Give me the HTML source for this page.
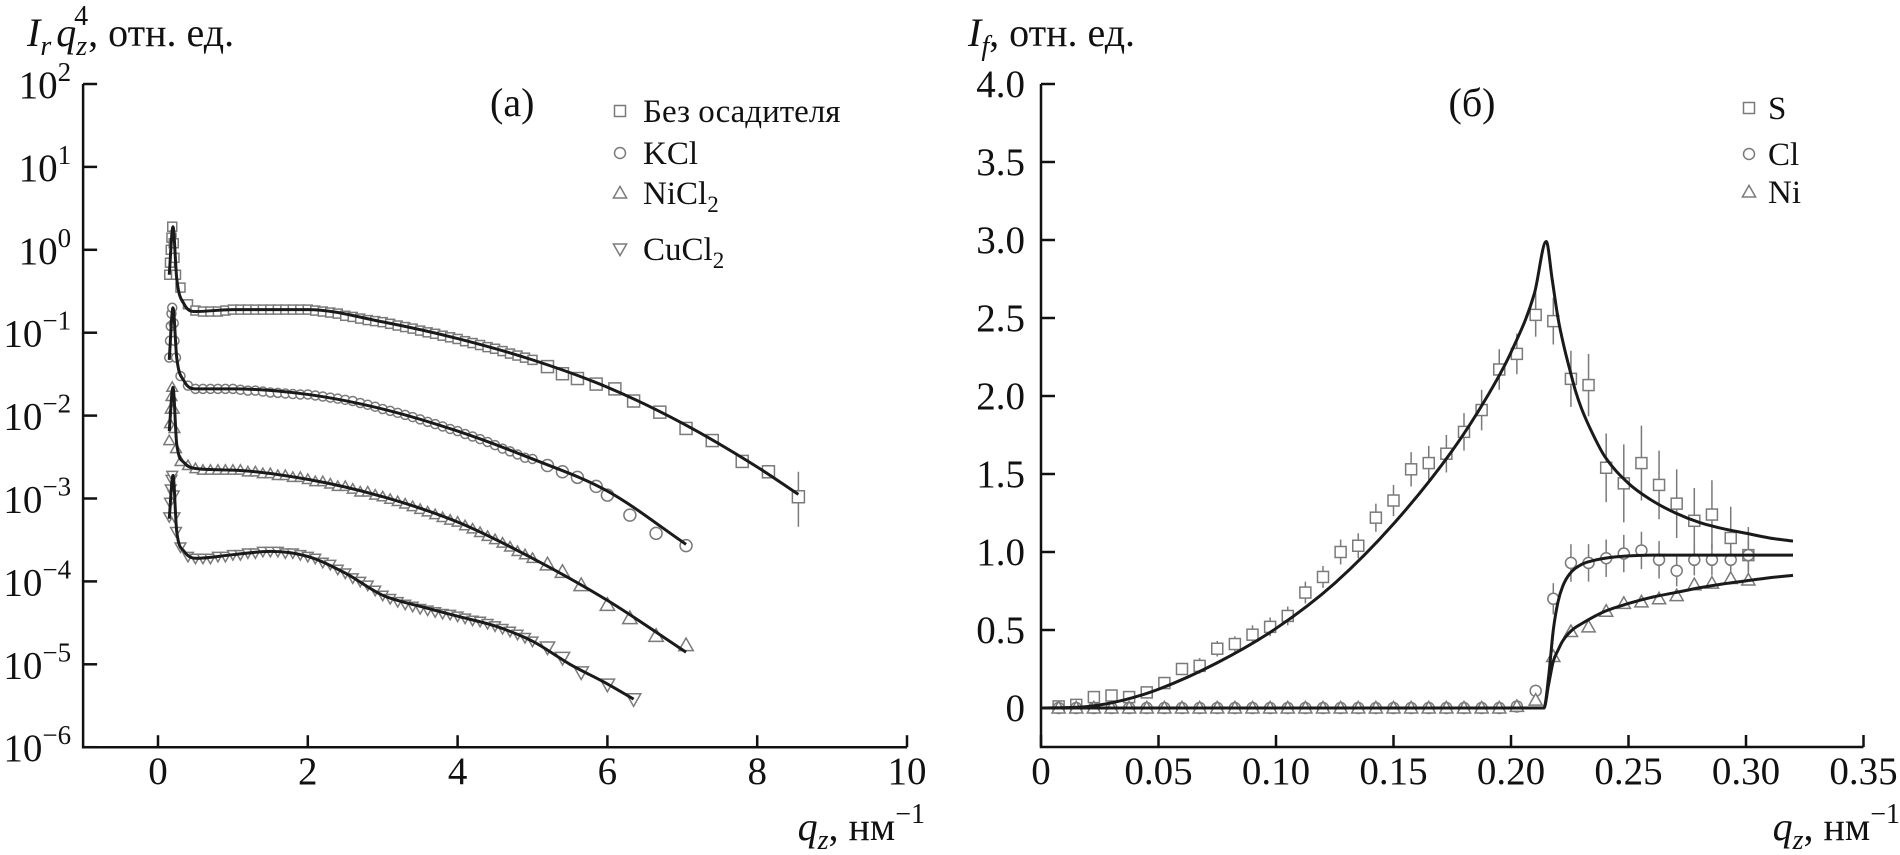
<!DOCTYPE html>
<html><head><meta charset="utf-8"><style>
html,body{margin:0;padding:0;background:#fff;}
svg{display:block;font-family:"Liberation Serif",serif;}
</style></head><body>
<svg id="chart" width="1900" height="855" viewBox="0 0 1900 855" xmlns="http://www.w3.org/2000/svg">
<g id="pa"></g>
<g id="pb"></g>
</svg>
<script>
// ---------- Panel (a) data ----------
const aXTicks = [0,2,4,6,8,10];
const aYTickExp = [2,1,0,-1,-2,-3,-4,-5,-6];
const aSeriesNames = ["Без осадителя","KCl","NiCl2","CuCl2"];
const aQ = [0.15,0.16,0.17,0.18,0.19,0.21,0.22,0.24,0.3,0.4,0.5,0.6,0.7,0.8,0.9,1.0,1.1,1.2,1.3,1.4,1.5,1.6,1.7,1.8,1.9,2.0,2.1,2.2,2.3,2.4,2.5,2.6,2.7,2.8,2.9,3.0,3.1,3.2,3.3,3.4,3.5,3.6,3.7,3.8,3.9,4.0,4.1,4.2,4.3,4.4,4.5,4.6,4.7,4.8,4.9,5.0];
const aS1 = [0.5,0.7,1.0,1.4,1.9,1.2,0.8,0.5,0.35,0.22,0.185,0.18,0.18,0.18,0.185,0.19,0.19,0.19,0.19,0.19,0.19,0.19,0.19,0.19,0.19,0.19,0.185,0.18,0.175,0.17,0.16,0.155,0.148,0.142,0.138,0.134,0.128,0.122,0.117,0.112,0.106,0.101,0.097,0.092,0.088,0.084,0.079,0.075,0.071,0.067,0.064,0.06,0.056,0.053,0.05,0.047];
const aS2 = [0.05,0.08,0.12,0.17,0.2,0.13,0.08,0.05,0.03,0.023,0.021,0.021,0.021,0.021,0.021,0.021,0.0205,0.02,0.02,0.0195,0.019,0.0188,0.0185,0.0182,0.018,0.018,0.0175,0.017,0.0165,0.016,0.0155,0.015,0.0142,0.0135,0.0128,0.012,0.0114,0.0108,0.0102,0.0096,0.009,0.0084,0.0079,0.0074,0.0069,0.0065,0.006,0.0056,0.0052,0.0048,0.0044,0.004,0.0037,0.0034,0.0031,0.003];
const aS3 = [0.005,0.008,0.012,0.017,0.022,0.012,0.007,0.004,0.0028,0.0025,0.0023,0.0022,0.0022,0.0022,0.0022,0.0022,0.0022,0.0021,0.0021,0.002,0.002,0.0019,0.0019,0.0018,0.0018,0.0017,0.0016,0.0016,0.0015,0.0014,0.0014,0.0013,0.0012,0.0012,0.0011,0.00105,0.00098,0.00092,0.00086,0.0008,0.00074,0.00069,0.00064,0.00059,0.00055,0.00052,0.00047,0.00043,0.00039,0.00035,0.00032,0.00029,0.00026,0.00023,0.00021,0.00019];
const aS4 = [0.0006,0.0009,0.0013,0.0017,0.0019,0.0011,0.0006,0.0004,0.00026,0.0002,0.00019,0.00019,0.00019,0.0002,0.0002,0.00021,0.00021,0.00022,0.00022,0.00023,0.00023,0.00023,0.00022,0.00022,0.00021,0.0002,0.00019,0.00017,0.00016,0.00014,0.000126,0.00011,0.0001,0.00009,0.000078,0.000068,0.000062,0.000057,0.000053,0.00005,0.000047,0.000045,0.000043,0.000041,0.00004,0.000038,0.000036,0.000034,0.000033,0.000031,0.000029,0.000027,0.000025,0.000023,0.000021,0.000019];
const aTailQ1 = [5.2,5.4,5.6,5.85,6.1,6.35,6.7,7.05,7.4,7.8,8.15,8.55];
const aTailV1 = [0.039,0.032,0.028,0.024,0.021,0.015,0.011,0.007,0.005,0.0028,0.0021,0.00105];
const aTailQ2 = [5.2,5.4,5.6,5.85,6.0,6.3,6.65,7.05];
const aTailV2 = [0.0025,0.0021,0.0018,0.0014,0.0011,0.00063,0.00038,0.00027];
const aTailQ3 = [5.2,5.4,5.65,6.0,6.3,6.65,7.05];
const aTailV3 = [0.00016,0.00013,0.00009,0.000052,0.000036,0.000022,0.000017];
const aTailQ4 = [5.2,5.4,5.65,6.0,6.35];
const aTailV4 = [0.000016,0.000012,0.000008,0.0000057,0.0000038];
const aFitQ1 = [0.15,0.2,0.25,0.35,0.5,1,2,3,4,5,6,7,8,8.55];
const aFitV1 = [0.5,1.9,0.45,0.22,0.18,0.19,0.19,0.135,0.085,0.047,0.022,0.0081,0.0024,0.00112];
const aFitQ2 = [0.15,0.2,0.25,0.35,0.5,1,2,3,4,5,6,7.05];
const aFitV2 = [0.047,0.2,0.05,0.026,0.021,0.021,0.018,0.012,0.0065,0.003,0.00123,0.00028];
const aFitQ3 = [0.15,0.2,0.25,0.35,0.5,1,2,3,4,5,6,7.05];
const aFitV3 = [0.0065,0.022,0.0045,0.0027,0.0023,0.0022,0.0017,0.00105,0.00052,0.00019,0.000059,0.000014];
const aFitQ4 = [0.15,0.2,0.25,0.35,0.5,1,1.5,2,2.5,3,3.5,4,4.5,5,5.5,6,6.35];
const aFitV4 = [0.00057,0.0019,0.0004,0.00023,0.00019,0.00021,0.00023,0.0002,0.000126,0.000068,0.00005,0.000038,0.000029,0.000019,0.00001,0.0000058,0.0000038];

// ---------- Panel (b) data ----------
const bXTicks = [0,0.05,0.10,0.15,0.20,0.25,0.30,0.35];
const bXTickLabels = ["0","0.05","0.10","0.15","0.20","0.25","0.30","0.35"];
const bYTicks = [0,0.5,1.0,1.5,2.0,2.5,3.0,3.5,4.0];
const bYTickLabels = ["0","0.5","1.0","1.5","2.0","2.5","3.0","3.5","4.0"];
const bQ = [0.0075,0.015,0.0225,0.03,0.0375,0.045,0.0525,0.06,0.0675,0.075,0.0825,0.09,0.0975,0.105,0.1125,0.12,0.1275,0.135,0.1425,0.15,0.1575,0.165,0.1725,0.18,0.1875,0.195,0.2025,0.2105,0.218,0.2255,0.233,0.2405,0.248,0.2555,0.263,0.2705,0.278,0.2855,0.2935,0.301];
const bS = [0.01,0.02,0.07,0.08,0.07,0.1,0.16,0.25,0.27,0.38,0.41,0.47,0.52,0.59,0.74,0.84,1.0,1.04,1.22,1.33,1.53,1.57,1.63,1.77,1.91,2.17,2.27,2.52,2.48,2.11,2.07,1.54,1.44,1.57,1.43,1.31,1.2,1.24,1.09,0.98];
const bSErr = [0.03,0.03,0.03,0.03,0.03,0.04,0.04,0.04,0.05,0.05,0.05,0.06,0.06,0.06,0.07,0.07,0.08,0.08,0.09,0.1,0.11,0.11,0.12,0.12,0.13,0.13,0.13,0.14,0.15,0.18,0.2,0.22,0.25,0.24,0.22,0.22,0.21,0.22,0.2,0.18];
const bCl = [0,0,0,0,0,0,0,0,0,0,0,0,0,0,0,0,0,0,0,0,0,0,0,0,0,0,0.01,0.11,0.7,0.93,0.93,0.96,0.99,1.01,0.95,0.88,0.95,0.95,0.95,0.98];
const bClErr = [0.03,0.03,0.03,0.03,0.03,0.03,0.03,0.03,0.03,0.03,0.03,0.03,0.03,0.03,0.03,0.03,0.03,0.03,0.03,0.03,0.03,0.03,0.03,0.03,0.03,0.03,0.03,0.04,0.1,0.12,0.12,0.12,0.12,0.12,0.12,0.1,0.1,0.1,0.1,0.1];
const bNi = [0,0,0,0,0,0,0,0,0,0,0,0,0,0,0,0,0,0,0,0,0,0,0,0,0,0,0.01,0.05,0.33,0.49,0.52,0.62,0.67,0.68,0.7,0.72,0.79,0.8,0.83,0.82];
const bFitSQ = [0,0.02,0.035,0.05,0.075,0.1,0.125,0.15,0.175,0.19,0.2,0.21,0.215,0.2175,0.22,0.2225,0.225,0.2275,0.23,0.235,0.24,0.25,0.26,0.27,0.28,0.29,0.3,0.31,0.32];
const bFitSV = [0,0.01,0.05,0.12,0.29,0.51,0.8,1.18,1.65,2.0,2.28,2.66,2.99,2.75,2.5,2.32,2.17,2.03,1.92,1.75,1.61,1.44,1.33,1.25,1.19,1.15,1.12,1.09,1.07];
const bFitClQ = [0,0.214,0.216,0.218,0.22,0.222,0.225,0.23,0.235,0.24,0.25,0.26,0.28,0.32];
const bFitClV = [0,0,0.2,0.5,0.68,0.78,0.86,0.92,0.945,0.96,0.975,0.98,0.98,0.98];
const bFitNiQ = [0,0.214,0.216,0.218,0.22,0.222,0.226,0.23,0.24,0.25,0.26,0.27,0.28,0.29,0.30,0.31,0.32];
const bFitNiV = [0,0,0.15,0.3,0.37,0.43,0.5,0.54,0.62,0.67,0.71,0.74,0.77,0.795,0.815,0.835,0.85];

const NS = "http://www.w3.org/2000/svg";
function mk(parent, tag, attrs, text){
  const e = document.createElementNS(NS, tag);
  for (const k in attrs) e.setAttribute(k, attrs[k]);
  if (text !== undefined) e.textContent = text;
  parent.appendChild(e);
  return e;
}
const GRAY = "#7a7a7a";
function marker(g, shape, x, y, s){
  let e;
  if (shape === "sq") e = mk(g, "rect", {x:x-s/2, y:y-s/2, width:s, height:s, fill:"#fff", stroke:GRAY, "stroke-width":1.5});
  else if (shape === "ci") e = mk(g, "circle", {cx:x, cy:y, r:s/2, fill:"#fff", stroke:GRAY, "stroke-width":1.5});
  else if (shape === "tu") e = mk(g, "polygon", {points:`${x},${y-s*0.6} ${x-s*0.6},${y+s*0.45} ${x+s*0.6},${y+s*0.45}`, fill:"#fff", stroke:GRAY, "stroke-width":1.5});
  else e = mk(g, "polygon", {points:`${x},${y+s*0.6} ${x-s*0.6},${y-s*0.45} ${x+s*0.6},${y-s*0.45}`, fill:"#fff", stroke:GRAY, "stroke-width":1.5});
  return e;
}
// monotone cubic (Fritsch-Carlson) path through pixel points with increasing x
function smoothPath(p){
  const n = p.length;
  const d = [], m = new Array(n);
  for (let i=0;i<n-1;i++) d.push((p[i+1][1]-p[i][1])/(p[i+1][0]-p[i][0]));
  m[0] = d[0]; m[n-1] = d[n-2];
  for (let i=1;i<n-1;i++) m[i] = (d[i-1]*d[i] <= 0) ? 0 : (d[i-1]+d[i])/2;
  for (let i=0;i<n-1;i++){
    if (d[i] === 0){ m[i]=0; m[i+1]=0; continue; }
    const a = m[i]/d[i], b = m[i+1]/d[i], s = a*a+b*b;
    if (s > 9){ const t = 3/Math.sqrt(s); m[i]=t*a*d[i]; m[i+1]=t*b*d[i]; }
  }
  let path = `M${p[0][0]},${p[0][1]}`;
  for (let i=0;i<n-1;i++){
    const h = (p[i+1][0]-p[i][0])/3;
    path += ` C${p[i][0]+h},${p[i][1]+m[i]*h} ${p[i+1][0]-h},${p[i+1][1]-m[i+1]*h} ${p[i+1][0]},${p[i+1][1]}`;
  }
  return path;
}
function axisTitle(g, x, y, anchor, parts, name){
  const t = mk(g, "text", {x:x, y:y, "text-anchor":anchor, "font-size":40, fill:"#111"});
  
  
  parts(t);
}

// ---------- Panel (a) ----------
(function(){
  const g = document.getElementById("pa");
  const X0 = 158, XU = 74.9, YT = 84, YD = 82.9;
  const ax = q => X0 + q*XU;
  const ay = v => YT + (2 - Math.log10(v))*YD;
  const yB = YT + 8*YD;
  const axes = mk(g, "path", {d:`M${ax(-1)},${YT} V${yB} H${ax(10)}`, fill:"none", stroke:"#111", "stroke-width":2.5});
  
  
  aYTickExp.forEach(ex => {
    const y = ay(Math.pow(10, ex));
    const t = mk(g, "line", {x1:ax(-1), x2:ax(-1)+14, y1:y, y2:y, stroke:"#111", "stroke-width":2.5});
    
    
    const lb = mk(g, "text", {x:ax(-1)-12, y:y+14, "text-anchor":"end", "font-size":39, fill:"#111"});
    
    
    mk(lb, "tspan", {}, "10");
    mk(lb, "tspan", {dy:-17, "font-size":27}, ex < 0 ? "\u2212" + (-ex) : String(ex));
  });
  aXTicks.forEach(v => {
    const x = ax(v);
    const t = mk(g, "line", {x1:x, x2:x, y1:yB, y2:yB-12, stroke:"#111", "stroke-width":2.5});
    
    
    const lb = mk(g, "text", {x:x, y:yB+37, "text-anchor":"middle", "font-size":39, fill:"#111"}, String(v));
    
    
  });
  const shapes = ["sq","ci","tu","td"];
  const vals = [aS1,aS2,aS3,aS4];
  const tq = [aTailQ1,aTailQ2,aTailQ3,aTailQ4];
  const tv = [aTailV1,aTailV2,aTailV3,aTailV4];
  const fq = [aFitQ1,aFitQ2,aFitQ3,aFitQ4];
  const fv = [aFitV1,aFitV2,aFitV3,aFitV4];
  for (let s=0;s<4;s++){
    const sg = mk(g, "g", {});
    
    
    aQ.forEach((q,i) => {
      const m = marker(sg, shapes[s], ax(q), ay(vals[s][i]), 9);
      
      
    });
    tq[s].forEach((q,i) => {
      const x = ax(q), y = ay(tv[s][i]);
      if (i === tq[s].length-1 && s===0){
        const eb = mk(sg, "line", {x1:x, x2:x, y1:y-25, y2:y+30, stroke:GRAY, "stroke-width":1.5});
        
        
      }
      const m = marker(sg, shapes[s], x, y, 12);
      
      
    });
    const pts = fq[s].map((q,i) => [ax(q), ay(fv[s][i])]);
    const line = mk(sg, "path", {d:smoothPath(pts), fill:"none", stroke:"#1a1a1a", "stroke-width":3});
    
    
  }
  const legY = [111,153,193,249];
  for (let s=0;s<4;s++){
    const lg = mk(g, "g", {});
    
    
    marker(lg, shapes[s], 620, legY[s], 11);
    const tx = mk(lg, "text", {x:643, y:legY[s]+11, "font-size":33, fill:"#111"});
    if (s >= 2){
      mk(tx, "tspan", {}, aSeriesNames[s].slice(0,-1));
      mk(tx, "tspan", {dy:8, "font-size":23}, "2");
    } else tx.textContent = aSeriesNames[s];
  }
  const pl = mk(g, "text", {x:490, y:116, "font-size":40, fill:"#111"}, "(a)");
  
  
  axisTitle(g, 27, 46, "start", t => {
    mk(t, "tspan", {"font-style":"italic"}, "I");
    mk(t, "tspan", {"font-style":"italic", dy:9, "font-size":28}, "r");
    mk(t, "tspan", {"font-style":"italic", dy:-9, dx:5}, "q");
    mk(t, "tspan", {"font-style":"italic", dy:9, "font-size":28}, "z");
    mk(t, "tspan", {dy:-30, dx:-13, "font-size":28}, "4");
    mk(t, "tspan", {dy:21}, ", отн. ед.");
  }, 'y-axis-title-a');
  axisTitle(g, 925, 840, "end", t => {
    mk(t, "tspan", {"font-style":"italic"}, "q");
    mk(t, "tspan", {"font-style":"italic", dy:9, "font-size":28}, "z");
    mk(t, "tspan", {dy:-9}, ", нм");
    mk(t, "tspan", {dy:-17, "font-size":28}, "\u22121");
  }, 'x-axis-title-a');
})();

// ---------- Panel (b) ----------
(function(){
  const g = document.getElementById("pb");
  const X0 = 1041, XU = 117.5/0.05, Y0 = 708, YU = 156;
  const bx = q => X0 + q*XU;
  const by = v => Y0 - v*YU;
  const yB = by(-0.25);
  const axes = mk(g, "path", {d:`M${X0},${by(4)} V${yB} H${bx(0.35)}`, fill:"none", stroke:"#111", "stroke-width":2.5});
  
  
  bYTicks.forEach((v,i) => {
    const y = by(v);
    const t = mk(g, "line", {x1:X0, x2:X0+14, y1:y, y2:y, stroke:"#111", "stroke-width":2.5});
    
    
    const lb = mk(g, "text", {x:X0-16, y:y+13, "text-anchor":"end", "font-size":39, fill:"#111"}, bYTickLabels[i]);
    
    
  });
  bXTicks.forEach((v,i) => {
    const x = bx(v);
    const t = mk(g, "line", {x1:x, x2:x, y1:yB, y2:yB-12, stroke:"#111", "stroke-width":2.5});
    
    
    const lb = mk(g, "text", {x:x, y:yB+37, "text-anchor":"middle", "font-size":39, fill:"#111"}, bXTickLabels[i]);
    
    
  });
  function series(name, vals, errs, shape){
    const sg = mk(g, "g", {});
    
    
    bQ.forEach((q,i) => {
      const x = bx(q), y = by(vals[i]);
      if (errs){
        const eb = mk(sg, "line", {x1:x, x2:x, y1:by(vals[i]+errs[i]), y2:by(vals[i]-errs[i]), stroke:GRAY, "stroke-width":1.5});
        
        
      }
      const m = marker(sg, shape, x, y, 11);
      
      
    });
  }
  series("series-s", bS, bSErr, "sq");
  series("series-cl", bCl, bClErr, "ci");
  series("series-ni", bNi, null, "tu");
  [[bFitSQ,bFitSV],[bFitClQ,bFitClV],[bFitNiQ,bFitNiV]].forEach(([qs,vs]) => {
    const pts = qs.map((q,i) => [bx(q), by(vs[i])]);
    const line = mk(g, "path", {d:smoothPath(pts), fill:"none", stroke:"#1a1a1a", "stroke-width":3});
    
    
  });
  const names = ["S","Cl","Ni"], shp = ["sq","ci","tu"], ly = [108,154,192];
  for (let s=0;s<3;s++){
    const lg = mk(g, "g", {});
    
    
    marker(lg, shp[s], 1749, ly[s], 11);
    mk(lg, "text", {x:1768, y:ly[s]+11, "font-size":33, fill:"#111"}, names[s]);
  }
  const pl = mk(g, "text", {x:1472, y:116, "text-anchor":"middle", "font-size":40, fill:"#111"}, "(б)");
  
  
  axisTitle(g, 968, 46, "start", t => {
    mk(t, "tspan", {"font-style":"italic"}, "I");
    mk(t, "tspan", {"font-style":"italic", dy:9, "font-size":28}, "f");
    mk(t, "tspan", {dy:-9}, ", отн. ед.");
  }, 'y-axis-title-b');
  axisTitle(g, 1900, 840, "end", t => {
    mk(t, "tspan", {"font-style":"italic"}, "q");
    mk(t, "tspan", {"font-style":"italic", dy:9, "font-size":28}, "z");
    mk(t, "tspan", {dy:-9}, ", нм");
    mk(t, "tspan", {dy:-17, "font-size":28}, "\u22121");
  }, 'x-axis-title-b');
})();
</script>
</body></html>
